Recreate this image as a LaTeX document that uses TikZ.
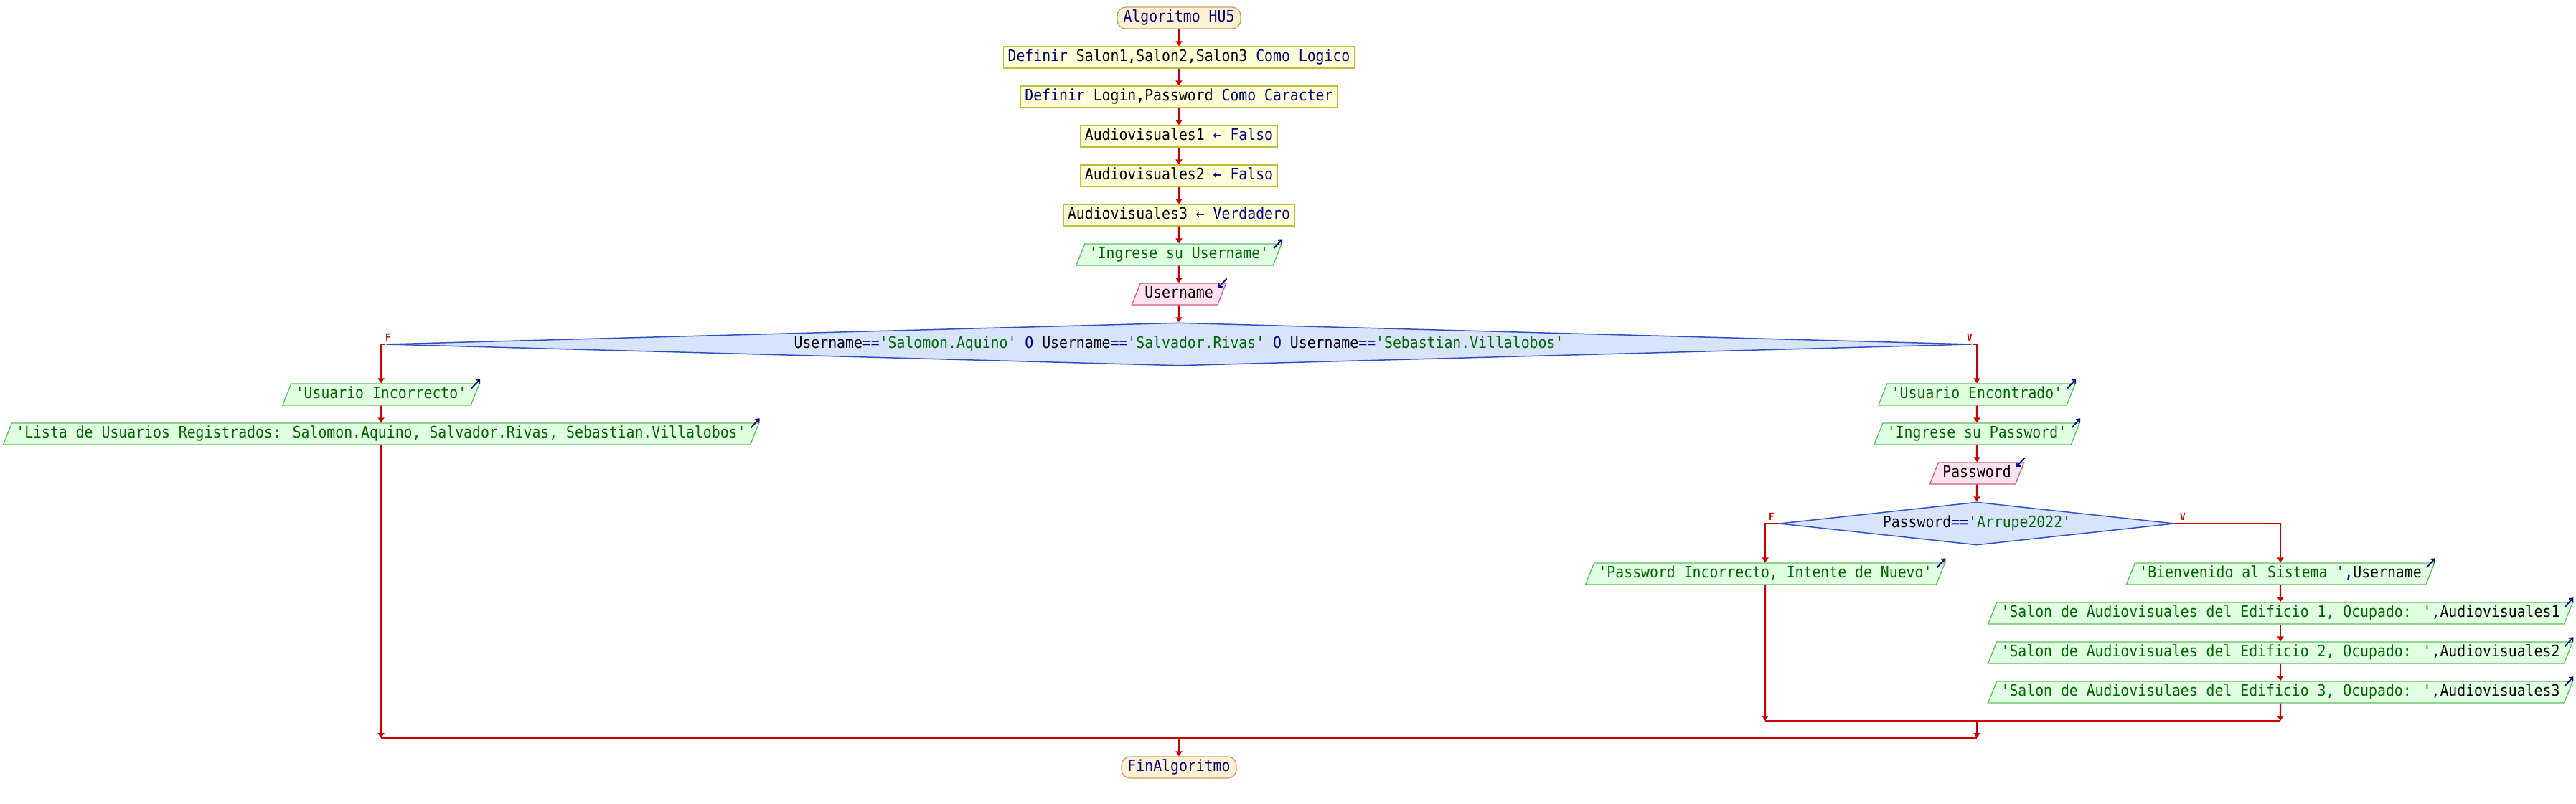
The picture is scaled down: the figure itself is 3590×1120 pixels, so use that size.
\documentclass[tikz,border=0pt]{standalone}
\usepackage{fontspec}
\newfontfamily\myfont[FakeStretch=0.9,WordSpace={1,0,0}]{DejaVu Sans Mono}
\usetikzlibrary{shapes.geometric,arrows.meta}
\definecolor{navy}{RGB}{0,0,128}
\definecolor{grn}{RGB}{0,100,0}
\definecolor{flowred}{RGB}{204,0,0}
\definecolor{procF}{RGB}{255,255,216}
\definecolor{procB}{RGB}{190,190,60}
\definecolor{termF}{RGB}{255,242,210}
\definecolor{termB}{RGB}{205,155,95}
\definecolor{outF}{RGB}{225,255,225}
\definecolor{outB}{RGB}{90,190,90}
\definecolor{inF}{RGB}{255,225,240}
\definecolor{inB}{RGB}{200,90,140}
\definecolor{decF}{RGB}{215,228,252}
\definecolor{decB}{RGB}{50,80,190}
\newcommand\kwd[1]{\textcolor{navy}{#1}}
\newcommand\strg[1]{\textcolor{grn}{#1}}
\newcommand\idf[1]{\textcolor{black}{#1}}
\tikzset{
  base/.style={font=\myfont\fontsize{22pt}{24pt}\selectfont, text height=16pt, text depth=5pt,
    inner xsep=6pt, inner ysep=4.5pt, line width=1.3pt},
  proc/.style={base, rectangle, draw=procB, fill=procF, text=black},
  term/.style={base, rectangle, rounded corners=12pt, inner xsep=8.5pt, draw=termB, fill=termF, text=navy},
  outp/.style={base, trapezium, trapezium left angle=68.2, trapezium right angle=111.8,
    draw=outB, fill=outF, text=grn},
  inp/.style={base, trapezium, trapezium left angle=68.2, trapezium right angle=111.8,
    draw=inB, fill=inF, text=black},
  dec/.style={base, diamond, inner sep=0pt, draw=decB, fill=decF, text=black, line width=1.5pt},
  flow/.style={draw=flowred, line width=2.2pt, -{Triangle[width=9pt,length=7pt]}},
  merge/.style={draw=flowred, line width=3pt},
  icon/.style={draw=navy, line width=1.8pt},
  outicon/.style={icon, -{Straight Barb[length=4pt,width=7pt]}},
  lbl/.style={font=\myfont\bfseries\fontsize{14pt}{15pt}\selectfont, text=flowred, inner sep=0pt}
}
\begin{document}
\begin{tikzpicture}[x=1pt,y=-1pt]
\useasboundingbox (0,0) rectangle (3590,1120);
% main column
\node[term] (start) at (1643,25) {Algoritmo HU5};
\node[proc] (def1) at (1643,80) {\kwd{Definir} Salon1,Salon2,Salon3 \kwd{Como Logico}};
\node[proc] (def2) at (1643,135) {\kwd{Definir} Login,Password \kwd{Como Caracter}};
\node[proc] (a1) at (1643,190) {Audiovisuales1 \kwd{← Falso}};
\node[proc] (a2) at (1643,245) {Audiovisuales2 \kwd{← Falso}};
\node[proc] (a3) at (1643,300) {Audiovisuales3 \kwd{← Verdadero}};
\node[outp] (ou) at (1643,355) {'Ingrese su Username'};
\node[inp] (iu) at (1643,410) {Username};
\node[dec, aspect=36.8, minimum width=2210pt, minimum height=60pt] (d1) at (1643,480)
  {Username\kwd{==}\strg{'Salomon.Aquino'} \kwd{O} Username\kwd{==}\strg{'Salvador.Rivas'} \kwd{O} Username\kwd{==}\strg{'Sebastian.Villalobos'}};
% left branch
\node[outp] (ui) at (531,550) {'Usuario Incorrecto'};
\node[outp] (li) at (531,605) {'Lista de Usuarios Registrados: Salomon.Aquino, Salvador.Rivas, Sebastian.Villalobos'};
% right branch
\node[outp] (ue) at (2755,550) {'Usuario Encontrado'};
\node[outp] (ip) at (2755,605) {'Ingrese su Password'};
\node[inp] (pw) at (2755,660) {Password};
\node[dec, aspect=9.2, minimum width=551pt, minimum height=60pt] (d2) at (2755,730)
  {Password\kwd{==}\strg{'Arrupe2022'}};
\node[outp] (pi) at (2460,800) {'Password Incorrecto, Intente de Nuevo'};
\node[outp] (bv) at (3178,800) {'Bienvenido al Sistema '\kwd{,}\idf{Username}};
\node[outp] (s1) at (3178,855) {'Salon de Audiovisuales del Edificio 1, Ocupado: '\kwd{,}\idf{Audiovisuales1}};
\node[outp] (s2) at (3178,910) {'Salon de Audiovisuales del Edificio 2, Ocupado: '\kwd{,}\idf{Audiovisuales2}};
\node[outp] (s3) at (3178,965) {'Salon de Audiovisulaes del Edificio 3, Ocupado: '\kwd{,}\idf{Audiovisuales3}};
\node[term] (fin) at (1643,1070) {FinAlgoritmo};
% branch labels
\node[lbl] (f1) at (541,470) {F};
\node[lbl] (v1) at (2745,470) {V};
\node[lbl] (f2) at (2469,720) {F};
\node[lbl] (v2) at (3042,720) {V};
% merge coordinates
\coordinate (m2l) at (2460,1005);
\coordinate (m2r) at (3178,1005);
\coordinate (m2c) at (2755,1005);
\coordinate (m1l) at (531,1029);
\coordinate (m1r) at (2755,1029);
\coordinate (m1c) at (1643,1029);
% connectors
\draw[flow] (start.south) -- (def1.north);
\draw[flow] (def1.south) -- (def2.north);
\draw[flow] (def2.south) -- (a1.north);
\draw[flow] (a1.south) -- (a2.north);
\draw[flow] (a2.south) -- (a3.north);
\draw[flow] (a3.south) -- (ou.north);
\draw[flow] (ou.south) -- (iu.north);
\draw[flow] (iu.south) -- (d1.north);
\draw[flow] (d1.west) -| (ui.north);
\draw[flow] (d1.east) -| (ue.north);
\draw[flow] (ui.south) -- (li.north);
\draw[flow] (ue.south) -- (ip.north);
\draw[flow] (ip.south) -- (pw.north);
\draw[flow] (pw.south) -- (d2.north);
\draw[flow] (d2.west) -| (pi.north);
\draw[flow] (d2.east) -| (bv.north);
\draw[flow] (bv.south) -- (s1.north);
\draw[flow] (s1.south) -- (s2.north);
\draw[flow] (s2.south) -- (s3.north);
\draw[flow] (pi.south) -- (m2l);
\draw[flow] (s3.south) -- (m2r);
\draw[merge] (m2l) -- (m2r);
\draw[flow] (m2c) -- (m1r);
\draw[flow] (li.south) -- (m1l);
\draw[merge] (m1l) -- (m1r);
\draw[flow] (m1c) -- (fin.north);
% output icons
\foreach \n in {ou,ui,li,ue,ip,pi,bv,s1,s2,s3}{
  \draw[outicon] ([shift={(-12,7)}]\n.top right corner) -- ([shift={(0,-6)}]\n.top right corner);
}
% input icons
\foreach \n in {iu,pw}{
  \draw[outicon] ([shift={(0,-6)}]\n.top right corner) -- ([shift={(-12,7)}]\n.top right corner);
}
\end{tikzpicture}
\end{document}
